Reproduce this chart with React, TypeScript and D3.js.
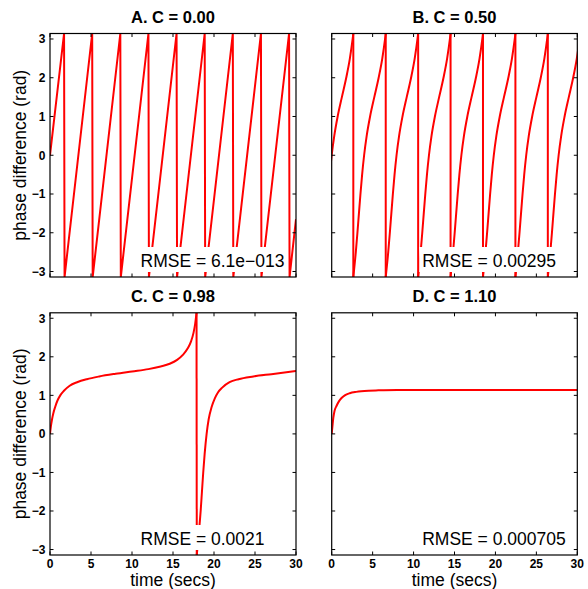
import React, { useEffect, useRef } from "react";
import * as d3 from "d3";

const PI = Math.PI;

const panelTitles = ["A. C = 0.00", "B. C = 0.50", "C. C = 0.98", "D. C = 1.10"];
const rmseLabels = ["RMSE = 6.1e\u2212013", "RMSE = 0.00295", "RMSE = 0.0021", "RMSE = 0.000705"];
const yTicks = [-3, -2, -1, 0, 1, 2, 3];
const xTicks = [0, 5, 10, 15, 20, 25, 30];

// Panel A (C = 0): straight ramps with wraps
const timeA = [0, 1.715, 1.775, 5.145, 5.205, 8.575, 8.635, 12.005, 12.065, 15.435, 15.495,
  18.865, 18.925, 22.295, 22.355, 25.725, 25.785, 29.155, 29.215, 30];
const phaseA = [0, PI, -PI, PI, -PI, PI, -PI, PI, -PI, PI, -PI, PI, -PI, PI, -PI, PI, -PI, PI, -PI, -1.65];

// Panel B (C = 0.50): one cycle shape (time since wrap, phase) and cycle start times
const cycleTauB = [0, 0.305, 0.502, 0.686, 0.872, 1.076, 1.32, 1.633, 2.047, 2.563, 3.095, 3.542, 3.88, 3.96];
const cyclePhaseB = [-PI, -2.5, -2, -1.5, -1, -0.5, 0, 0.5, 1, 1.5, 2, 2.5, 3.0, PI];
const cycleStartsB = [-1.32, 2.64, 6.6, 10.56, 14.52, 18.48, 22.44, 26.4];

// Panel C (C = 0.98)
const timeC1 = [0, 0.1, 0.25, 0.4, 0.6, 0.9, 1.25, 1.7, 2.4, 3.3, 4.5, 6, 8, 10, 12, 13.5, 14.6, 15.5, 16.2, 16.8, 17.2, 17.5, 17.7, 17.87];
const phaseC1 = [0, 0.18, 0.38, 0.53, 0.68, 0.86, 1.0, 1.12, 1.25, 1.34, 1.42, 1.49, 1.56, 1.62, 1.68, 1.75, 1.82, 1.92, 2.05, 2.22, 2.4, 2.62, 2.85, PI];
const timeC2 = [17.9, 18.2, 18.38, 18.53, 18.68, 18.86, 19.1, 19.35, 19.7, 20.1, 20.5, 21.0, 21.9, 23.0, 24.8, 27, 30];
const phaseC2 = [-PI, -2.45, -1.98, -1.5, -1.02, -0.52, 0, 0.38, 0.69, 0.92, 1.08, 1.2, 1.34, 1.42, 1.49, 1.55, 1.63];

// Panel D (C = 1.10)
const timeD = [0, 0.1, 0.2, 0.35, 0.6, 0.9, 1.2, 1.6, 2.2, 3, 3.6, 4.5, 5.7, 8, 30];
const phaseD = [0, 0.22, 0.42, 0.6, 0.73, 0.85, 0.93, 1.0, 1.055, 1.09, 1.107, 1.122, 1.13, 1.138, 1.141];

type Pt = [number, number];
const zip = (t: number[], p: number[]): Pt[] => t.map((v, i) => [v, p[i]] as Pt);

export default function App() {
  const ref = useRef<SVGSVGElement | null>(null);

  useEffect(() => {
    const svg = d3.select(ref.current);
    svg.selectAll("*").remove();
    const font = "'Liberation Sans', Arial, Helvetica, sans-serif";

    const cols = [[50, 296], [331.7, 577.3]];
    const rows = [[33.5, 277], [312.8, 555]];

    const panels: { smooth: Pt[][]; straight: Pt[][] }[] = [
      { smooth: [], straight: [zip(timeA, phaseA)] },
      {
        smooth: cycleStartsB.map((s) => cycleTauB.map((tau, i) => [s + tau, cyclePhaseB[i]] as Pt)),
        straight: cycleStartsB.slice(1).map((s) => [[s, PI], [s, -PI]] as Pt[]),
      },
      {
        smooth: [zip(timeC1, phaseC1), zip(timeC2, phaseC2)],
        straight: [[[timeC1[timeC1.length - 1], PI], [timeC2[0], -PI]]],
      },
      { smooth: [zip(timeD, phaseD)], straight: [] },
    ];

    panels.forEach((pd, idx) => {
      const c = idx % 2;
      const r = Math.floor(idx / 2);
      const [x0, x1] = cols[c];
      const [y0, y1] = rows[r];
      const x = d3.scaleLinear().domain([0, 30]).range([x0, x1]);
      const y = d3.scaleLinear().domain([-PI, PI]).range([y1, y0]);
      const g = svg.append("g");

      const clipId = `clip${idx}`;
      svg.append("defs").append("clipPath").attr("id", clipId)
        .append("rect").attr("x", x0).attr("y", y0).attr("width", x1 - x0).attr("height", y1 - y0);

      g.append("rect").attr("x", x0).attr("y", y0).attr("width", x1 - x0).attr("height", y1 - y0)
        .attr("fill", "#fff");

      const data = g.append("g").attr("clip-path", `url(#${clipId})`);
      const smoothLine = d3.line<Pt>().x((d) => x(d[0])).y((d) => y(d[1])).curve(d3.curveMonotoneX);
      const straightLine = d3.line<Pt>().x((d) => x(d[0])).y((d) => y(d[1]));
      pd.smooth.forEach((seg) => {
        data.append("path").attr("d", smoothLine(seg)).attr("fill", "none")
          .attr("stroke", "#ff0000").attr("stroke-width", 2);
      });
      pd.straight.forEach((seg) => {
        data.append("path").attr("d", straightLine(seg)).attr("fill", "none")
          .attr("stroke", "#ff0000").attr("stroke-width", 2);
      });

      // ticks (inward, all sides)
      const tl = 3.5;
      const ax = g.append("g").attr("stroke", "#000").attr("stroke-width", 1);
      xTicks.forEach((t) => {
        ax.append("line").attr("x1", x(t)).attr("x2", x(t)).attr("y1", y1).attr("y2", y1 - tl);
        ax.append("line").attr("x1", x(t)).attr("x2", x(t)).attr("y1", y0).attr("y2", y0 + tl);
      });
      yTicks.forEach((t) => {
        ax.append("line").attr("x1", x0).attr("x2", x0 + tl).attr("y1", y(t)).attr("y2", y(t));
        ax.append("line").attr("x1", x1).attr("x2", x1 - tl).attr("y1", y(t)).attr("y2", y(t));
      });

      // RMSE label with white box
      const tx = x0 + 90.5;
      const ty = y1 - 10.5;
      const txt = g.append("text").attr("x", tx).attr("y", ty).attr("font-family", font)
        .attr("font-size", 17.5).attr("fill", "#000").text(rmseLabels[idx]);
      const bb = (txt.node() as SVGTextElement).getBBox();
      g.insert("rect", "text").attr("x", bb.x - 3).attr("y", ty - 19.5)
        .attr("width", bb.width + 6).attr("height", 25).attr("fill", "#fff");

      // box
      g.append("rect").attr("x", x0).attr("y", y0).attr("width", x1 - x0).attr("height", y1 - y0)
        .attr("fill", "none").attr("stroke", "#000").attr("stroke-width", 1.2);

      // title
      g.append("text").attr("x", (x0 + x1) / 2).attr("y", y0 - 10.8).attr("text-anchor", "middle")
        .attr("font-family", font).attr("font-weight", "bold").attr("font-size", 16.5)
        .text(panelTitles[idx]);

      if (c === 0) {
        yTicks.forEach((t) => {
          g.append("text").attr("x", x0 - 4.5).attr("y", y(t)).attr("dy", "0.36em")
            .attr("text-anchor", "end").attr("font-family", font).attr("font-weight", "bold")
            .attr("font-size", 12).text(t < 0 ? `\u2212${-t}` : `${t}`);
        });
        g.append("text").attr("transform", `translate(25.5,${(y0 + y1) / 2}) rotate(-90)`)
          .attr("text-anchor", "middle").attr("font-family", font).attr("font-size", 17.5)
          .text("phase difference (rad)");
      }
      if (r === 1) {
        xTicks.forEach((t) => {
          g.append("text").attr("x", x(t)).attr("y", y1 + 13).attr("text-anchor", "middle")
            .attr("font-family", font).attr("font-weight", "bold").attr("font-size", 12).text(`${t}`);
        });
        g.append("text").attr("x", (x0 + x1) / 2).attr("y", 585.5).attr("text-anchor", "middle")
          .attr("font-family", font).attr("font-size", 17.5).text("time (secs)");
      }
    });
  }, []);

  return (
    <svg ref={ref} width={588} height={589}
      style={{ position: "absolute", left: 0, top: 0, background: "#fff" }} />
  );
}
